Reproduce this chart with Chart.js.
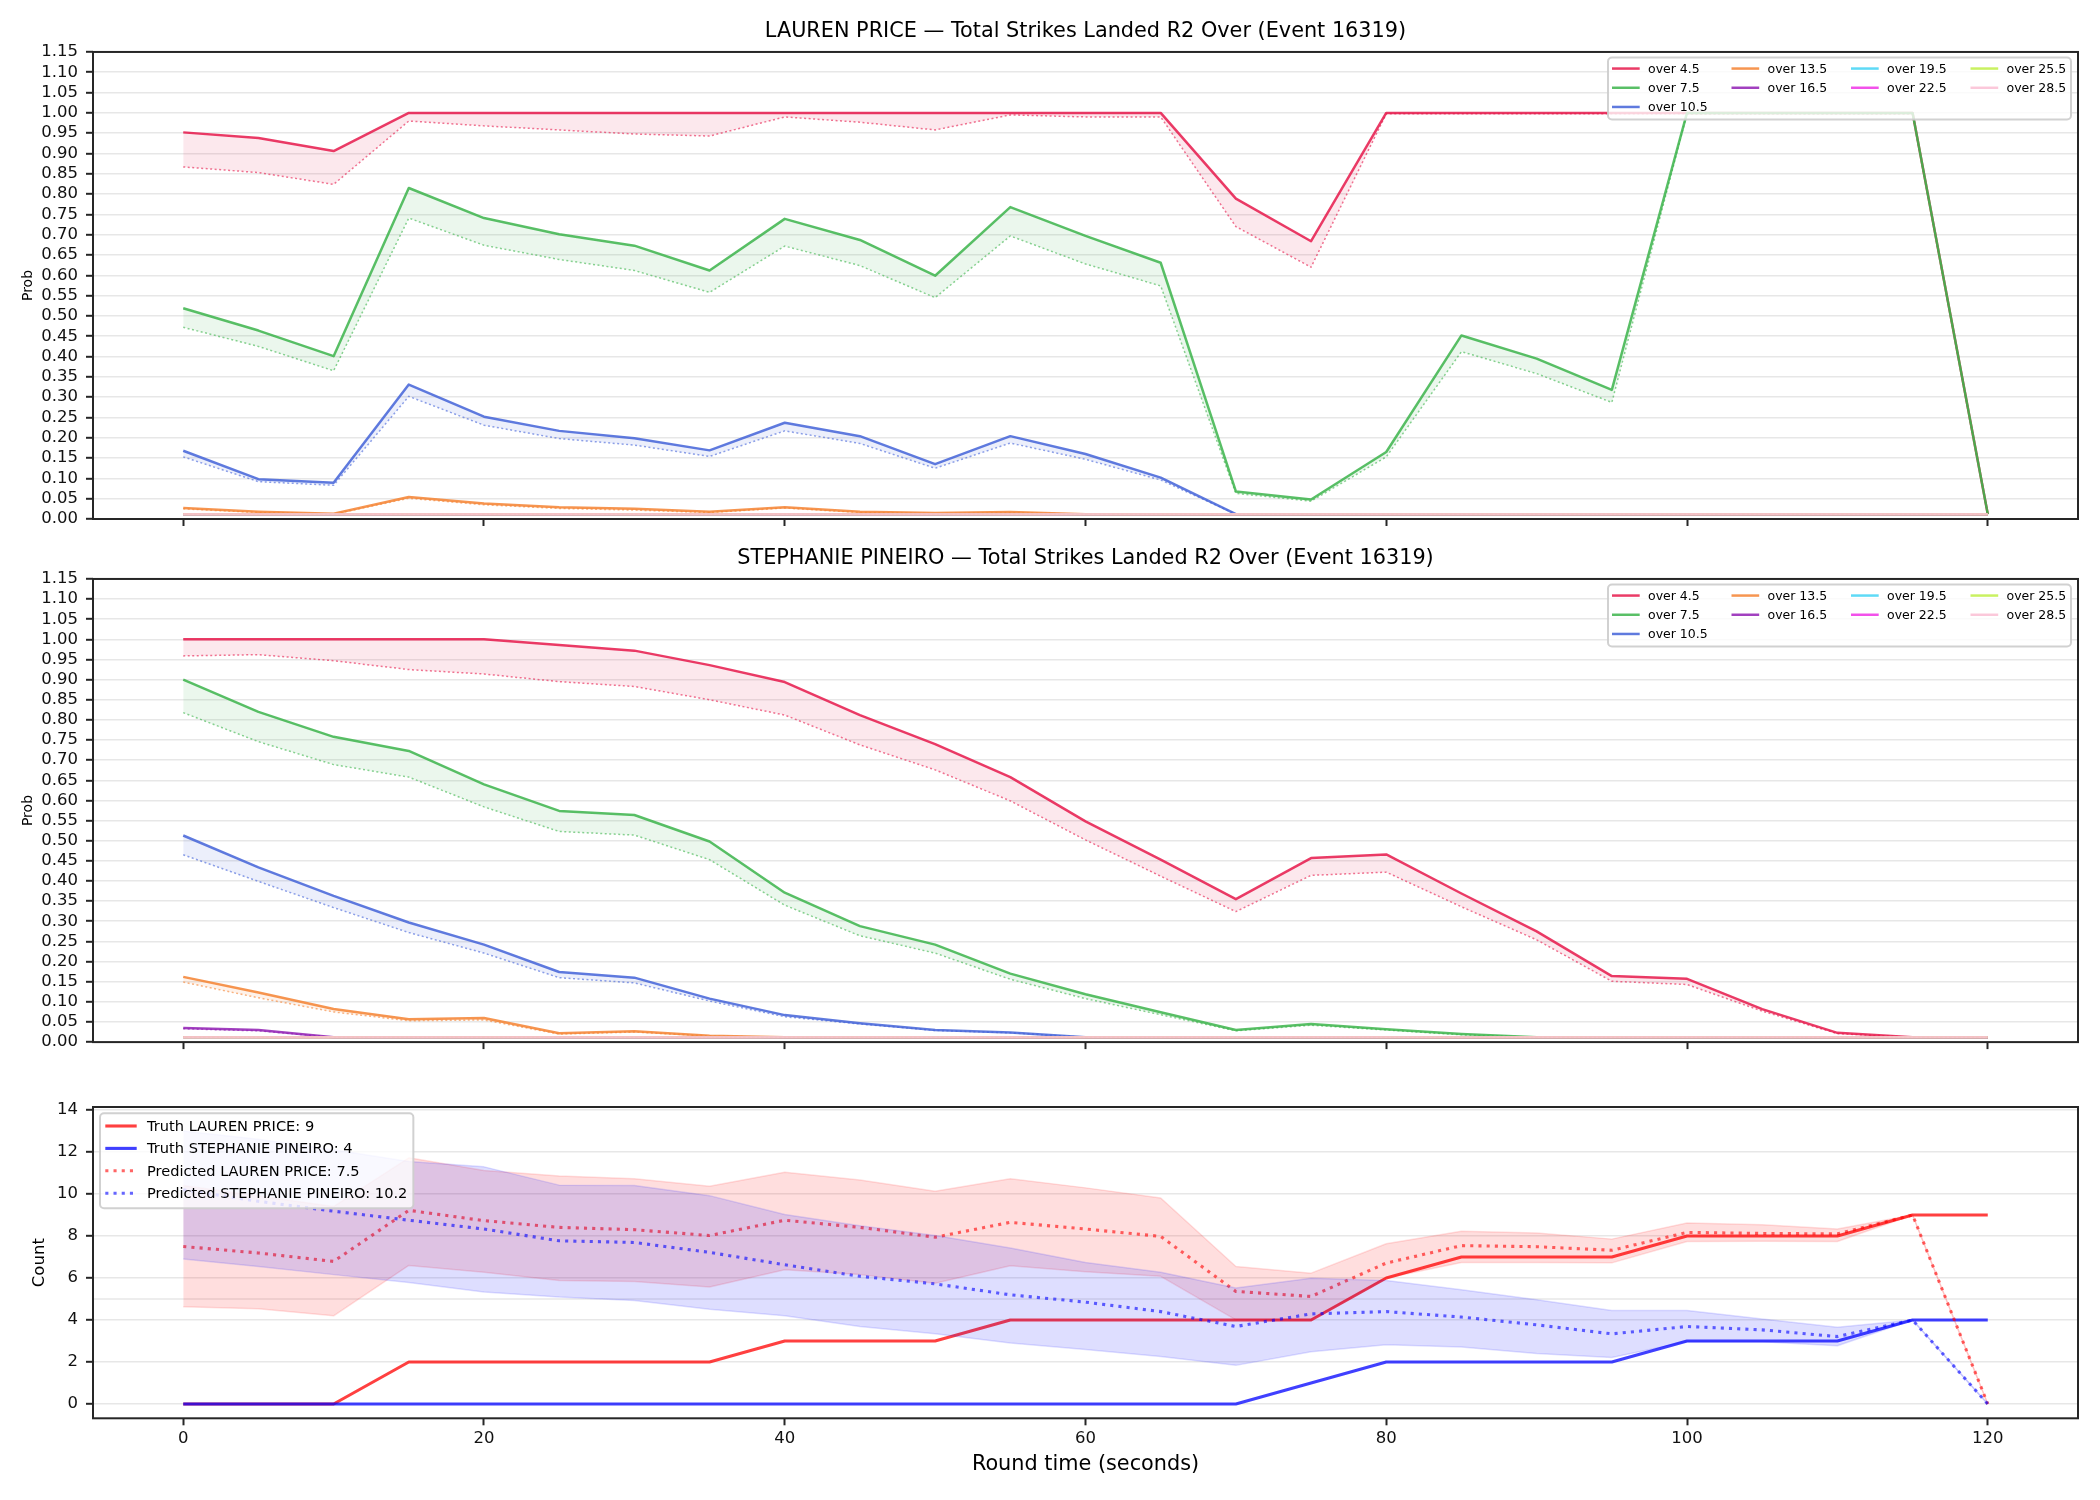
<!DOCTYPE html>
<html>
<head>
<meta charset="utf-8">
<title>Total Strikes Landed R2 Over (Event 16319)</title>
<script src="https://cdn.jsdelivr.net/npm/chart.js@4.4.1/dist/chart.umd.min.js"></script>
<style>
  html, body { margin: 0; padding: 0; background: #fff; }
  #page { position: relative; width: 2100px; height: 1500px; }
  #page canvas { position: absolute; left: 0; }
</style>
</head>
<body>
<div id="page">
  <canvas id="pricePanel" width="2100" height="540" style="top:0"></canvas>
  <canvas id="pineiroPanel" width="2100" height="520" style="top:540px"></canvas>
  <canvas id="countPanel" width="2100" height="440" style="top:1060px"></canvas>
</div>
<script>
// ---- data ----
const fighterA = 'LAUREN PRICE';
const fighterB = 'STEPHANIE PINEIRO';
const marketName = 'Total Strikes Landed R2 Over (Event 16319)';

const roundTimes = [0, 5, 10, 15, 20, 25, 30, 35, 40, 45, 50, 55, 60, 65, 70, 75, 80, 85, 90, 95, 100, 105, 110, 115, 120];
const timeTicks = [0, 20, 40, 60, 80, 100, 120];
const probTicks = [0, 0.05, 0.10, 0.15, 0.20, 0.25, 0.30, 0.35, 0.40, 0.45, 0.50, 0.55, 0.60, 0.65, 0.70, 0.75, 0.80, 0.85, 0.90, 0.95, 1.00, 1.05, 1.10, 1.15];
const countTicks = [0, 2, 4, 6, 8, 10, 12, 14];
const countRefLine = 5;

const thresholdLabels = ['over 4.5', 'over 7.5', 'over 10.5', 'over 13.5', 'over 16.5', 'over 19.5', 'over 22.5', 'over 25.5', 'over 28.5'];
const thresholdColors = ['#e6194b', '#3cb44b', '#4363d8', '#f58231', '#911eb4', '#42d4f4', '#f032e6', '#bfef45', '#fabed4'];

const floorProb = [0.012, 0.012, 0.012, 0.012, 0.012, 0.012, 0.012, 0.012, 0.012, 0.012, 0.012, 0.012, 0.012, 0.012, 0.012, 0.012, 0.012, 0.012, 0.012, 0.012, 0.012, 0.012, 0.012, 0.012, 0.012];

// LAUREN PRICE: solid and dotted lines per threshold
const priceSolid45 = [0.952, 0.938, 0.906, 1, 1, 1, 1, 1, 1, 1, 1, 1, 1, 1, 0.789, 0.684, 1, 1, 1, 1, 1, 1, 1, 1, 0.012];
const priceDotted45 = [0.867, 0.853, 0.824, 0.980, 0.968, 0.958, 0.948, 0.943, 0.990, 0.977, 0.958, 0.995, 0.990, 0.990, 0.720, 0.620, 0.998, 0.998, 0.998, 0.998, 0.998, 0.998, 0.998, 0.998, 0.012];
const priceSolid75 = [0.519, 0.464, 0.401, 0.815, 0.741, 0.701, 0.673, 0.612, 0.739, 0.687, 0.599, 0.768, 0.697, 0.631, 0.068, 0.048, 0.165, 0.452, 0.395, 0.318, 1, 1, 1, 1, 0.012];
const priceDotted75 = [0.472, 0.425, 0.365, 0.741, 0.674, 0.639, 0.612, 0.558, 0.672, 0.624, 0.545, 0.697, 0.628, 0.574, 0.063, 0.044, 0.153, 0.412, 0.358, 0.287, 0.998, 0.998, 0.998, 0.998, 0.012];
const priceSolid105 = [0.168, 0.098, 0.089, 0.331, 0.252, 0.217, 0.199, 0.169, 0.237, 0.204, 0.135, 0.204, 0.160, 0.102, 0.012, 0.012, 0.012, 0.012, 0.012, 0.012, 0.012, 0.012, 0.012, 0.012, 0.012];
const priceDotted105 = [0.153, 0.092, 0.083, 0.302, 0.231, 0.198, 0.182, 0.154, 0.217, 0.186, 0.125, 0.187, 0.147, 0.096, 0.012, 0.012, 0.012, 0.012, 0.012, 0.012, 0.012, 0.012, 0.012, 0.012, 0.012];
const priceSolid135 = [0.027, 0.018, 0.013, 0.054, 0.038, 0.029, 0.025, 0.018, 0.029, 0.018, 0.015, 0.017, 0.012, 0.012, 0.012, 0.012, 0.012, 0.012, 0.012, 0.012, 0.012, 0.012, 0.012, 0.012, 0.012];
const priceDotted135 = [0.025, 0.016, 0.012, 0.051, 0.035, 0.026, 0.022, 0.016, 0.027, 0.016, 0.013, 0.015, 0.012, 0.012, 0.012, 0.012, 0.012, 0.012, 0.012, 0.012, 0.012, 0.012, 0.012, 0.012, 0.012];

// STEPHANIE PINEIRO
const pineiroSolid45 = [1, 1, 1, 1, 1, 0.986, 0.972, 0.936, 0.894, 0.812, 0.740, 0.658, 0.548, 0.453, 0.355, 0.457, 0.466, 0.369, 0.275, 0.164, 0.157, 0.082, 0.023, 0.012, 0.012];
const pineiroDotted45 = [0.959, 0.962, 0.947, 0.925, 0.914, 0.895, 0.883, 0.850, 0.812, 0.738, 0.676, 0.599, 0.502, 0.412, 0.324, 0.414, 0.422, 0.336, 0.254, 0.151, 0.143, 0.077, 0.021, 0.012, 0.012];
const pineiroSolid75 = [0.900, 0.820, 0.758, 0.723, 0.640, 0.574, 0.564, 0.498, 0.371, 0.288, 0.242, 0.170, 0.119, 0.074, 0.030, 0.045, 0.032, 0.020, 0.012, 0.012, 0.012, 0.012, 0.012, 0.012, 0.012];
const pineiroDotted75 = [0.818, 0.746, 0.689, 0.658, 0.584, 0.523, 0.514, 0.453, 0.340, 0.264, 0.221, 0.156, 0.108, 0.068, 0.028, 0.042, 0.030, 0.018, 0.012, 0.012, 0.012, 0.012, 0.012, 0.012, 0.012];
const pineiroSolid105 = [0.513, 0.434, 0.363, 0.297, 0.242, 0.174, 0.160, 0.108, 0.067, 0.047, 0.030, 0.024, 0.012, 0.012, 0.012, 0.012, 0.012, 0.012, 0.012, 0.012, 0.012, 0.012, 0.012, 0.012, 0.012];
const pineiroDotted105 = [0.465, 0.399, 0.334, 0.272, 0.221, 0.160, 0.147, 0.102, 0.063, 0.045, 0.029, 0.023, 0.012, 0.012, 0.012, 0.012, 0.012, 0.012, 0.012, 0.012, 0.012, 0.012, 0.012, 0.012, 0.012];
const pineiroSolid135 = [0.162, 0.123, 0.082, 0.057, 0.060, 0.022, 0.027, 0.016, 0.012, 0.012, 0.012, 0.012, 0.012, 0.012, 0.012, 0.012, 0.012, 0.012, 0.012, 0.012, 0.012, 0.012, 0.012, 0.012, 0.012];
const pineiroDotted135 = [0.149, 0.110, 0.075, 0.053, 0.055, 0.020, 0.025, 0.015, 0.012, 0.012, 0.012, 0.012, 0.012, 0.012, 0.012, 0.012, 0.012, 0.012, 0.012, 0.012, 0.012, 0.012, 0.012, 0.012, 0.012];
const pineiroSolid165 = [0.035, 0.030, 0.012, 0.012, 0.012, 0.012, 0.012, 0.012, 0.012, 0.012, 0.012, 0.012, 0.012, 0.012, 0.012, 0.012, 0.012, 0.012, 0.012, 0.012, 0.012, 0.012, 0.012, 0.012, 0.012];
const pineiroDotted165 = [0.033, 0.028, 0.012, 0.012, 0.012, 0.012, 0.012, 0.012, 0.012, 0.012, 0.012, 0.012, 0.012, 0.012, 0.012, 0.012, 0.012, 0.012, 0.012, 0.012, 0.012, 0.012, 0.012, 0.012, 0.012];

// counts panel
const truthPrice = [0, 0, 0, 2, 2, 2, 2, 2, 3, 3, 3, 4, 4, 4, 4, 4, 6, 7, 7, 7, 8, 8, 8, 9, 9];
const truthPineiro = [0, 0, 0, 0, 0, 0, 0, 0, 0, 0, 0, 0, 0, 0, 0, 1, 2, 2, 2, 2, 3, 3, 3, 4, 4];
const predPrice = [7.5, 7.19, 6.79, 9.22, 8.73, 8.41, 8.30, 8.02, 8.75, 8.41, 7.94, 8.65, 8.33, 7.98, 5.36, 5.12, 6.71, 7.54, 7.49, 7.32, 8.17, 8.12, 8.10, 9.0, 0];
const predPriceHi = [10.4, 9.9, 9.4, 11.72, 11.12, 10.85, 10.72, 10.37, 11.03, 10.66, 10.13, 10.72, 10.29, 9.81, 6.55, 6.23, 7.63, 8.22, 8.14, 7.85, 8.62, 8.54, 8.33, 9.0, 0];
const predPriceLo = [4.63, 4.53, 4.20, 6.60, 6.27, 5.88, 5.83, 5.57, 6.39, 6.16, 5.75, 6.58, 6.30, 6.08, 4.01, 4.0, 6.0, 6.74, 6.74, 6.72, 7.74, 7.75, 7.74, 9.0, 0];
const predPineiro = [10.2, 9.65, 9.18, 8.75, 8.33, 7.77, 7.69, 7.22, 6.63, 6.08, 5.72, 5.20, 4.85, 4.40, 3.69, 4.29, 4.40, 4.14, 3.77, 3.34, 3.69, 3.53, 3.21, 4.0, 0];
const predPineiroHi = [13.0, 12.6, 12.1, 11.55, 11.29, 10.42, 10.4, 9.92, 9.02, 8.49, 8.02, 7.43, 6.74, 6.27, 5.52, 5.99, 5.88, 5.44, 4.96, 4.45, 4.45, 4.05, 3.66, 4.0, 0];
const predPineiroLo = [6.90, 6.55, 6.16, 5.78, 5.33, 5.09, 4.93, 4.51, 4.20, 3.69, 3.34, 2.90, 2.60, 2.26, 1.84, 2.49, 2.82, 2.71, 2.41, 2.21, 2.97, 2.97, 2.77, 4.0, 0];

const priceSolidSeries = [priceSolid45, priceSolid75, priceSolid105, priceSolid135, floorProb, floorProb, floorProb, floorProb, floorProb];
const priceDottedSeries = [priceDotted45, priceDotted75, priceDotted105, priceDotted135, floorProb, floorProb, floorProb, floorProb, floorProb];
const pineiroSolidSeries = [pineiroSolid45, pineiroSolid75, pineiroSolid105, pineiroSolid135, pineiroSolid165, floorProb, floorProb, floorProb, floorProb];
const pineiroDottedSeries = [pineiroDotted45, pineiroDotted75, pineiroDotted105, pineiroDotted135, pineiroDotted165, floorProb, floorProb, floorProb, floorProb];

// ---- styling ----
const fontFamily = "'DejaVu Sans', sans-serif";
Chart.defaults.font.family = fontFamily;
Chart.defaults.color = '#111';
const spineColor = '#262626';
const gridColor = 'rgba(176, 176, 176, 0.3)';

function hexToRgba(hex, a) {
  const n = parseInt(hex.slice(1), 16);
  return `rgba(${(n >> 16) & 255}, ${(n >> 8) & 255}, ${n & 255}, ${a})`;
}

function pts(values) {
  return roundTimes.map((t, i) => ({ x: t, y: values[i] }));
}

function drawLegendFrame(ctx, x, y, w, h) {
  ctx.save();
  ctx.beginPath();
  ctx.roundRect(x, y, w, h, 4);
  ctx.fillStyle = 'rgba(255, 255, 255, 0.8)';
  ctx.fill();
  ctx.strokeStyle = 'rgba(204, 204, 204, 0.9)';
  ctx.lineWidth = 2;
  ctx.stroke();
  ctx.restore();
}

// full box of spines like matplotlib
const axesFrame = {
  id: 'axesFrame',
  afterDraw(chart) {
    const { ctx, chartArea: a } = chart;
    ctx.save();
    ctx.strokeStyle = spineColor;
    ctx.lineWidth = 2;
    ctx.strokeRect(a.left, a.top, a.right - a.left, a.bottom - a.top);
    ctx.restore();
  }
};

// 4-column legend, filled column by column
const probLegend = {
  id: 'probLegend',
  afterDatasetsDraw(chart) {
    const { ctx, chartArea: a } = chart;
    const boxW = 463, boxH = 62;
    const x0 = a.right - 7 - boxW, y0 = a.top + 5.6;
    drawLegendFrame(ctx, x0, y0, boxW, boxH);
    ctx.save();
    ctx.font = `12.5px ${fontFamily}`;
    ctx.fillStyle = '#000';
    ctx.textBaseline = 'middle';
    thresholdLabels.forEach((label, k) => {
      const col = k < 3 ? 0 : Math.floor((k - 3) / 2) + 1;
      const row = k < 3 ? k : (k - 3) % 2;
      const hx = x0 + 4 + col * 119.5;
      const hy = y0 + 11 + row * 19.2;
      ctx.strokeStyle = hexToRgba(thresholdColors[k], 0.85);
      ctx.lineWidth = 2.5;
      ctx.beginPath();
      ctx.moveTo(hx, hy);
      ctx.lineTo(hx + 27.7, hy);
      ctx.stroke();
      ctx.fillText(label, hx + 36, hy + 1);
    });
    ctx.restore();
  }
};

function probDatasets(solidSeries, dottedSeries) {
  const sets = [];
  thresholdLabels.forEach((label, k) => {
    const c = thresholdColors[k];
    sets.push({
      label: label,
      data: pts(solidSeries[k]),
      borderColor: hexToRgba(c, 0.85),
      backgroundColor: hexToRgba(c, 0.1),
      borderWidth: 2.5,
      fill: '+1'
    });
    sets.push({
      label: label + ' (dotted)',
      data: pts(dottedSeries[k]),
      borderColor: hexToRgba(c, 0.6),
      borderWidth: 1.5,
      borderDash: [2, 2.5],
      fill: false
    });
  });
  // later thresholds drawn on top
  sets.forEach((s, i) => { s.order = sets.length - i; });
  return sets;
}

function xScale(showLabels, height) {
  return {
    type: 'linear',
    min: -6,
    max: 126,
    afterBuildTicks: s => { s.ticks = timeTicks.map(v => ({ value: v })); },
    afterFit: s => { s.height = height; },
    ticks: { display: showLabels, autoSkip: false, maxRotation: 0, padding: 4, font: { size: 16.5 }, color: '#111', callback: v => String(v) },
    grid: { drawOnChartArea: false, drawTicks: true, tickLength: 7, tickWidth: 2, tickColor: spineColor, color: spineColor },
    border: { display: false },
    title: showLabels
      ? { display: true, text: 'Round time (seconds)', font: { size: 20.8 }, color: '#000', padding: { top: 0, bottom: 22.5 } }
      : { display: false }
  };
}

function probChart(canvasId, fighter, solidSeries, dottedSeries, titlePad, xHeight) {
  return new Chart(document.getElementById(canvasId), {
    type: 'line',
    data: { datasets: probDatasets(solidSeries, dottedSeries) },
    options: {
      responsive: false,
      animation: false,
      events: [],
      layout: { autoPadding: false, padding: { left: 0, right: 22, top: 0, bottom: 0 } },
      elements: { point: { radius: 0 }, line: { tension: 0, borderJoinStyle: 'round' } },
      scales: {
        x: xScale(false, xHeight),
        y: {
          type: 'linear',
          min: 0,
          max: 1.15,
          afterBuildTicks: s => { s.ticks = probTicks.map(v => ({ value: v })); },
          afterFit: s => { s.width = 93; },
          ticks: { autoSkip: false, padding: 8, font: { size: 16.5 }, color: '#111', callback: v => v.toFixed(2) },
          grid: { color: gridColor, lineWidth: 1.6, tickColor: spineColor, tickLength: 7, tickWidth: 2 },
          border: { display: false },
          title: { display: true, text: 'Prob', font: { size: 14 }, color: '#000', padding: { top: 19.6, bottom: 0 } }
        }
      },
      plugins: {
        legend: { display: false },
        tooltip: { enabled: false },
        title: {
          display: true,
          fullSize: false,
          text: `${fighter} — ${marketName}`,
          font: { size: 20.8, weight: 'normal' },
          color: '#000',
          padding: titlePad
        }
      }
    },
    plugins: [probLegend, axesFrame]
  });
}

probChart('pricePanel', fighterA, priceSolidSeries, priceDottedSeries, { top: 19.5, bottom: 7.5 }, 21);
probChart('pineiroPanel', fighterB, pineiroSolidSeries, pineiroDottedSeries, { top: 6, bottom: 8 }, 13);

// ---- counts panel ----
const truthLabelA = `Truth ${fighterA}: ${truthPrice[truthPrice.length - 1]}`;
const truthLabelB = `Truth ${fighterB}: ${truthPineiro[truthPineiro.length - 1]}`;
const predLabelA = `Predicted ${fighterA}: ${predPrice[0].toFixed(1)}`;
const predLabelB = `Predicted ${fighterB}: ${predPineiro[0].toFixed(1)}`;

const countLegendItems = [
  { text: truthLabelA, color: 'rgba(255, 0, 0, 0.75)', dash: [] },
  { text: truthLabelB, color: 'rgba(0, 0, 255, 0.75)', dash: [] },
  { text: predLabelA, color: 'rgba(255, 0, 0, 0.6)', dash: [3.1, 5.1] },
  { text: predLabelB, color: 'rgba(0, 0, 255, 0.6)', dash: [3.1, 5.1] }
];

const countLegend = {
  id: 'countLegend',
  afterDatasetsDraw(chart) {
    const { ctx, chartArea: a } = chart;
    ctx.save();
    ctx.font = `14.6px ${fontFamily}`;
    const maxW = Math.max(...countLegendItems.map(it => ctx.measureText(it.text).width));
    const x0 = a.left + 7, y0 = a.top + 6.3;
    const boxW = 47 + maxW + 6, boxH = 95;
    drawLegendFrame(ctx, x0, y0, boxW, boxH);
    ctx.textBaseline = 'middle';
    ctx.fillStyle = '#000';
    countLegendItems.forEach((it, i) => {
      const hy = y0 + 12.7 + i * 22.4;
      ctx.strokeStyle = it.color;
      ctx.lineWidth = 3.1;
      ctx.setLineDash(it.dash);
      ctx.beginPath();
      ctx.moveTo(x0 + 5.3, hy);
      ctx.lineTo(x0 + 36.7, hy);
      ctx.stroke();
      ctx.setLineDash([]);
      ctx.fillText(it.text, x0 + 47, hy + 1);
    });
    ctx.restore();
  }
};

const countGuide = {
  id: 'countGuide',
  beforeDatasetsDraw(chart) {
    const { ctx, chartArea: a } = chart;
    const y = chart.scales.y.getPixelForValue(countRefLine);
    ctx.save();
    ctx.strokeStyle = gridColor;
    ctx.lineWidth = 1.6;
    ctx.beginPath();
    ctx.moveTo(a.left, y);
    ctx.lineTo(a.right, y);
    ctx.stroke();
    ctx.restore();
  }
};

const countDatasets = [
  { label: truthLabelA, data: pts(truthPrice), borderColor: 'rgba(255, 0, 0, 0.75)', borderWidth: 3.1, fill: false },
  { label: truthLabelB, data: pts(truthPineiro), borderColor: 'rgba(0, 0, 255, 0.75)', borderWidth: 3.1, fill: false },
  { label: 'band hi ' + fighterA, data: pts(predPriceHi), borderColor: 'rgba(255, 0, 0, 0.13)', backgroundColor: 'rgba(255, 0, 0, 0.13)', borderWidth: 1.5, fill: '+1' },
  { label: 'band lo ' + fighterA, data: pts(predPriceLo), borderColor: 'rgba(255, 0, 0, 0.13)', borderWidth: 1.5, fill: false },
  { label: predLabelA, data: pts(predPrice), borderColor: 'rgba(255, 0, 0, 0.6)', borderWidth: 3.1, borderDash: [3.1, 5.1], fill: false },
  { label: 'band hi ' + fighterB, data: pts(predPineiroHi), borderColor: 'rgba(0, 0, 255, 0.13)', backgroundColor: 'rgba(0, 0, 255, 0.13)', borderWidth: 1.5, fill: '+1' },
  { label: 'band lo ' + fighterB, data: pts(predPineiroLo), borderColor: 'rgba(0, 0, 255, 0.13)', borderWidth: 1.5, fill: false },
  { label: predLabelB, data: pts(predPineiro), borderColor: 'rgba(0, 0, 255, 0.6)', borderWidth: 3.1, borderDash: [3.1, 5.1], fill: false }
];
countDatasets.forEach((s, i) => { s.order = countDatasets.length - i; });

new Chart(document.getElementById('countPanel'), {
  type: 'line',
  data: { datasets: countDatasets },
  options: {
    responsive: false,
    animation: false,
    events: [],
    layout: { autoPadding: false, padding: { left: 0, right: 22, top: 47, bottom: 0 } },
    elements: { point: { radius: 0 }, line: { tension: 0, borderJoinStyle: 'round' } },
    scales: {
      x: xScale(true, 81.7),
      y: {
        type: 'linear',
        min: -0.68,
        max: 14.14,
        afterBuildTicks: s => { s.ticks = countTicks.map(v => ({ value: v })); },
        afterFit: s => { s.width = 93; },
        ticks: { autoSkip: false, padding: 8, font: { size: 16.5 }, color: '#111', callback: v => String(v) },
        grid: { color: gridColor, lineWidth: 1.6, tickColor: spineColor, tickLength: 7, tickWidth: 2 },
        border: { display: false },
        title: { display: true, text: 'Count', font: { size: 16.5 }, color: '#000', padding: { top: 30, bottom: 0 } }
      }
    },
    plugins: {
      legend: { display: false },
      tooltip: { enabled: false },
      title: { display: false }
    }
  },
  plugins: [countGuide, countLegend, axesFrame]
});
</script>
</body>
</html>
